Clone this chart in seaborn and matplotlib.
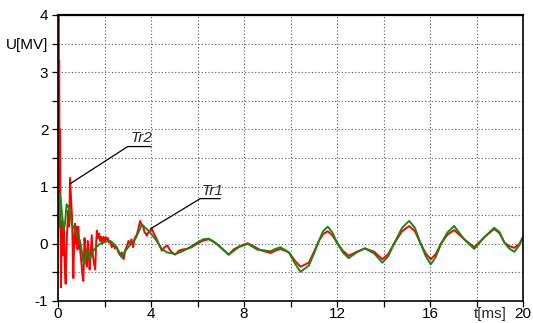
import matplotlib
matplotlib.use("Agg")
import matplotlib.pyplot as plt
import pandas as pd
import seaborn as sns

# Transformer voltages, time in ms, voltage in MV
t_tr2 = [0.00, 0.02, 0.03, 0.05, 0.07, 0.09, 0.11, 0.13, 0.16, 0.20, 0.25, 0.30, 0.33,
         0.38, 0.44, 0.48, 0.52, 0.56, 0.60, 0.66, 0.70, 0.73, 0.77, 0.80, 0.84, 0.87,
         0.91, 0.95, 1.00, 1.05, 1.09, 1.14, 1.19, 1.24, 1.28, 1.31, 1.36, 1.40, 1.45,
         1.50, 1.55, 1.60, 1.64, 1.67, 1.72, 1.77, 1.81, 1.86, 1.90, 1.95, 2.00, 2.05,
         2.10, 2.15, 2.20, 2.25, 2.31, 2.38, 2.45, 2.52, 2.60, 2.67, 2.74, 2.82, 2.90,
         2.96, 3.03, 3.10, 3.16, 3.23, 3.30, 3.38, 3.45, 3.53, 3.60, 3.66, 3.72, 3.78,
         3.82, 3.88, 3.95, 4.04, 4.12, 4.25, 4.35, 4.47, 4.58, 4.70, 4.80, 4.90, 5.04,
         5.20, 5.35, 5.55, 5.75, 5.98, 6.20, 6.48, 6.70, 6.91, 7.10, 7.34, 7.55, 7.77,
         7.95, 8.16, 8.40, 8.70, 9.14, 9.35, 9.57, 9.93, 10.20, 10.43, 10.79, 11.00,
         11.22, 11.40, 11.60, 11.80, 12.00, 12.25, 12.50, 12.85, 13.20, 13.60, 13.95,
         14.20, 14.45, 14.80, 15.10, 15.35, 15.60, 15.82, 16.03, 16.25, 16.47, 16.75,
         17.04, 17.47, 17.90, 18.35, 18.76, 19.00, 19.20, 19.40, 19.63, 19.85, 20.00]
u_tr2 = [0.30, 4.30, 1.50, 3.20, 0.80, 2.00, 0.20, -0.76, 0.40, -0.20, 0.30, -0.50, -0.70,
         0.10, 0.58, 0.30, 1.15, 0.80, 0.50, -0.60, 0.10, 0.35, 0.00, 0.30, -0.10, 0.30,
         0.05, -0.10, -0.30, -0.55, -0.65, 0.10, -0.20, -0.40, 0.05, -0.10, -0.45, -0.20, 0.15,
         -0.20, -0.35, -0.45, 0.00, 0.23, 0.10, 0.18, 0.05, 0.12, 0.00, 0.12, 0.05, 0.12,
         0.07, 0.10, 0.02, 0.05, -0.06, -0.02, -0.08, -0.05, -0.15, -0.20, -0.15, -0.27, -0.10,
         -0.05, 0.05, -0.02, 0.08, -0.06, 0.10, 0.15, 0.25, 0.40, 0.33, 0.31, 0.20, 0.18,
         0.14, 0.20, 0.22, 0.26, 0.18, 0.08, -0.02, -0.12, -0.06, -0.03, -0.10, -0.15, -0.19,
         -0.12, -0.10, -0.09, -0.06, 0.00, 0.05, 0.08, 0.03, -0.03, -0.10, -0.19, -0.10, -0.05,
         -0.02, 0.01, -0.04, -0.11, -0.16, -0.12, -0.09, -0.15, -0.30, -0.40, -0.33, -0.15,
         0.05, 0.17, 0.22, 0.15, 0.02, -0.12, -0.21, -0.14, -0.08, -0.14, -0.27,
         -0.18, 0.00, 0.22, 0.31, 0.22, 0.00, -0.17, -0.27, -0.18, 0.00, 0.16,
         0.24, 0.08, -0.06, 0.12, 0.26, 0.18, 0.02, -0.04, -0.07, 0.00, 0.12]

t_tr1 = [0.00, 0.03, 0.06, 0.09, 0.13, 0.19, 0.25, 0.30, 0.37, 0.44, 0.52, 0.59, 0.66,
         0.73, 0.80, 0.88, 0.95, 1.02, 1.08, 1.14, 1.20, 1.24, 1.30, 1.38, 1.45, 1.52,
         1.60, 1.67, 1.80, 1.95, 2.10, 2.24, 2.35, 2.46, 2.60, 2.74, 2.85, 2.96, 3.15,
         3.32, 3.48, 3.61, 3.75, 3.89, 4.05, 4.25, 4.47, 4.68, 4.83, 5.04, 5.30, 5.55,
         5.98, 6.25, 6.48, 6.70, 6.91, 7.34, 7.77, 8.16, 8.56, 9.14, 9.35, 9.57, 9.93,
         10.20, 10.43, 10.79, 11.00, 11.22, 11.40, 11.60, 11.80, 12.00, 12.25, 12.50,
         12.85, 13.20, 13.60, 13.95, 14.20, 14.45, 14.80, 15.10, 15.35, 15.60, 15.82,
         16.03, 16.25, 16.47, 16.75, 17.04, 17.47, 17.90, 18.35, 18.76, 19.00, 19.20,
         19.40, 19.63, 19.85, 20.00]
u_tr1 = [0.10, 0.50, 0.30, 0.87, 0.70, 0.46, 0.25, 0.35, 0.69, 0.65, 0.55, 0.34, 0.30,
         0.25, 0.18, 0.11, 0.05, -0.12, -0.30, -0.36, -0.20, -0.12, -0.20, -0.27, -0.15, -0.12,
         -0.08, -0.05, 0.00, 0.02, 0.04, 0.05, 0.02, -0.03, -0.12, -0.24, -0.15, -0.09, 0.00,
         0.08, 0.22, 0.34, 0.28, 0.23, 0.15, 0.05, -0.09, -0.15, -0.16, -0.18, -0.14, -0.09,
         0.02, 0.08, 0.09, 0.04, -0.03, -0.19, -0.06, 0.00, -0.10, -0.13, -0.09, -0.06, -0.15,
         -0.35, -0.49, -0.38, -0.18, 0.05, 0.22, 0.30, 0.20, 0.02, -0.15, -0.25,
         -0.15, -0.08, -0.17, -0.33, -0.22, 0.00, 0.28, 0.40, 0.28, 0.00, -0.22,
         -0.36, -0.23, 0.00, 0.20, 0.31, 0.08, -0.09, 0.12, 0.28, 0.20, 0.02, -0.08,
         -0.14, -0.02, 0.12]

x_ticks = [0, 4, 8, 12, 16, 20]
x_tick_labels = ["0", "4", "8", "12", "16", "20"]
y_ticks = [-1, 0, 1, 2, 3, 3.5, 4]
y_tick_labels = ["-1", "0", "1", "2", "3", "U[MV]", "4"]

df2 = pd.DataFrame({"t": t_tr2, "u": u_tr2})
df1 = pd.DataFrame({"t": t_tr1, "u": u_tr1})

sns.set_style("ticks")
plt.rcParams["font.family"] = ["Liberation Sans", "DejaVu Sans"]

fig = plt.figure(figsize=(5.33, 3.23), dpi=100)
ax = fig.add_axes([58 / 533, 1 - 301 / 323, 465 / 533, 286 / 323])

sns.lineplot(data=df2, x="t", y="u", ax=ax, color="#ff0000", lw=1.4,
             sort=False, estimator=None)
sns.lineplot(data=df1, x="t", y="u", ax=ax, color="#138a13", lw=1.4,
             sort=False, estimator=None)

ax.set_xlim(0, 20)
ax.set_ylim(-1, 4)
ax.set_xlabel("")
ax.set_ylabel("")

ax.set_xticks(x_ticks)
ax.set_xticklabels(x_tick_labels)
ax.set_xticks([2, 6, 10, 14, 18], minor=True)
ax.set_yticks(y_ticks)
ax.set_yticklabels(y_tick_labels)
ax.set_yticks([-0.5, 0.5, 1.5, 2.5], minor=True)

ax.tick_params(which="both", direction="out", length=4, width=0.9, colors="black",
               labelsize=11)
ax.tick_params(axis="y", pad=3)
ax.tick_params(axis="x", pad=0)
ax.grid(True, which="both", color="0.35", linestyle=(0, (1, 2)), linewidth=0.8)
for side in ["left", "right", "top", "bottom"]:
    ax.spines[side].set_visible(True)
    ax.spines[side].set_color("black")
    ax.spines[side].set_linewidth(1.2)
ax.spines["top"].set_linewidth(1.6)

# axis unit label set in the tick-label row
ax.annotate("t[ms]", xy=(18.6, 0), xycoords=("data", "axes fraction"),
            xytext=(0, -4), textcoords="offset points", ha="center", va="top",
            fontsize=11)

# curve labels with leader lines
ax.plot([0.52, 3.0, 4.0], [1.05, 1.70, 1.70], color="black", lw=0.9)
ax.text(3.6, 1.72, "Tr2", style="italic", fontsize=11, ha="center", va="bottom")
ax.plot([3.97, 6.12, 6.98], [0.26, 0.79, 0.79], color="black", lw=0.9)
ax.text(6.65, 0.80, "Tr1", style="italic", fontsize=11, ha="center", va="bottom")

fig.savefig("out.png", dpi=100)
